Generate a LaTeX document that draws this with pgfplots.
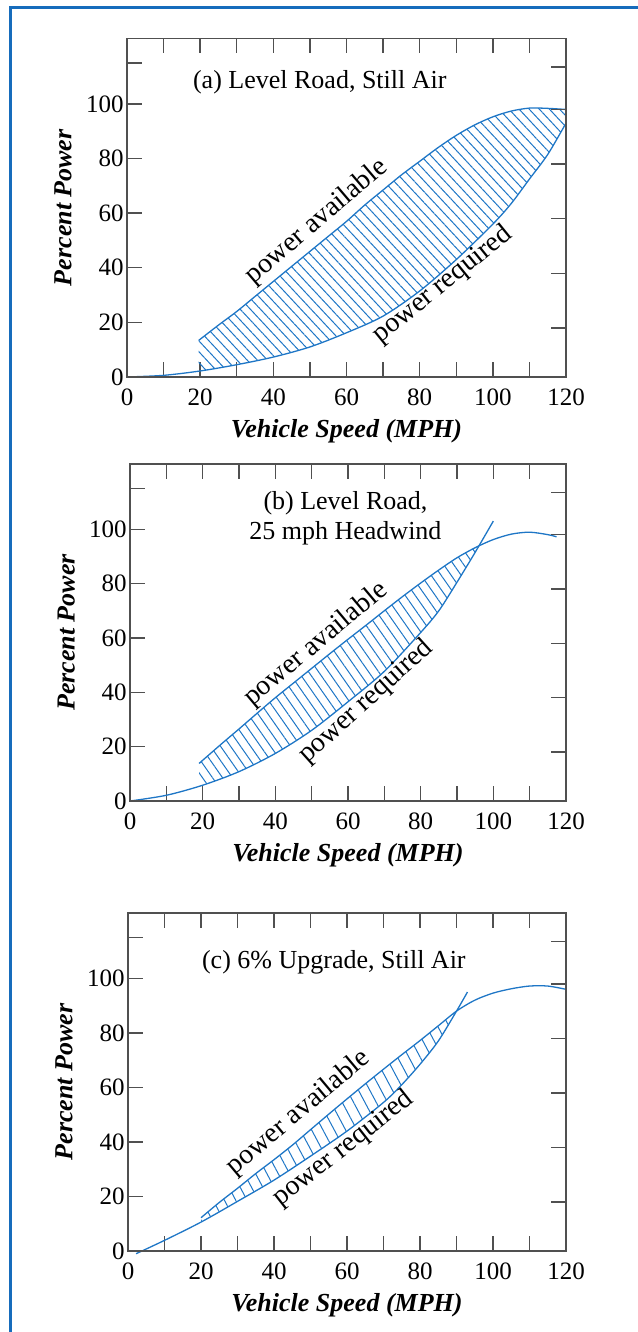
\documentclass[border=0pt]{standalone}
\usepackage{fontspec}
\setmainfont{Liberation Serif}
\usepackage{pgfplots}
\pgfplotsset{compat=1.18}
\usepgfplotslibrary{fillbetween}
\usetikzlibrary{patterns.meta}

\definecolor{frameblue}{RGB}{22,108,188}
\definecolor{curveblue}{RGB}{30,118,198}
\definecolor{axisgray}{RGB}{80,80,80}

\newcommand\tickfont{\fontsize{12.5}{14}\selectfont}
\newcommand\labfont{\fontsize{13}{15}\selectfont\bfseries\itshape}
\newcommand\notefont{\fontsize{13}{15}\selectfont}
\newcommand\rotfont{\fontsize{14}{16}\selectfont}

\tikzset{
  note/.style={font=\notefont, inner sep=0pt},
  rot/.style={font=\rotfont, inner sep=0pt},
}

\pgfplotsset{
  panel/.style={
    anchor=south west, scale only axis,
    xmin=0, xmax=120, ymin=0, ymax=124,
    axis line style={axisgray, line width=0.7pt},
    tick style={axisgray, line width=0.7pt},
    tick align=inside, major tick length=7.5pt,
    clip=false,
  },
  main/.style={
    panel,
    xtick={0,10,...,120},
    xticklabels={0,,20,,40,,60,,80,,100,,120},
    ytick={0,20,40,60,80,100,115},
    yticklabels={0,20,40,60,80,100,},
    xtick pos=both, ytick pos=left,
    /pgf/number format/assume math mode=true,
    ticklabel style={font=\tickfont},
    xticklabel style={yshift=-2.5pt},
    yticklabel style={inner xsep=1.5pt},
    xlabel={Vehicle Speed (MPH)}, ylabel={Percent Power},
    label style={font=\labfont},
    xlabel style={at={(axis description cs:0.5,0)}, anchor=center, yshift=-27pt},
    ylabel style={at={(axis description cs:-0.146,0.5)}, anchor=center},
  },
  right ticks/.style={
    panel, xtick=\empty, ytick pos=right,
    ytick={18,38,58,78,98,113.5}, yticklabels={},
  },
  curve/.style={curveblue, line width=0.65pt, smooth, no markers},
}

\begin{document}
\begin{tikzpicture}
\draw[frameblue, line width=1.5pt] (5.2pt,-3pt) -- (5.2pt,662pt) -- (322pt,662pt);

% (a) level road, still air
\begin{axis}[main, at={(63.5pt,477.5pt)}, width=219.5pt, height=169.25pt]
\addplot[curve, name path=Ra] coordinates {
  (0,0) (10,0.6) (20,2.2) (30,4.5) (40,7.3) (50,11) (60,16.2) (70,22.3)
  (80,31.5) (90,43) (100,56) (105,63.5) (110,72.5) (115,81.5) (120,93)};
\addplot[curve, name path=Aa] coordinates {
  (19.6,13.4) (25,19) (30,24) (35,29.5) (40,35) (45,40.5) (50,46) (55,51.5)
  (60,57) (65,63) (70,68.5) (75,74) (80,79) (85,84) (90,88.5) (95,92.3)
  (100,95.3) (105,97.4) (110,98.5) (115,98.4) (120,98)};
\addplot[draw=none, pattern={Lines[angle=-47,distance=3.7pt,line width=0.5pt]},
  pattern color=curveblue] fill between[of=Aa and Ra, soft clip={domain=19.6:120}];
\node[note] at (axis cs:52.7,108) {(a) Level Road, Still Air};
\node[rot, rotate=40.5] at (axis cs:51.9,56.8) {power available};
\node[rot, rotate=39] at (axis cs:86.3,33.7) {power required};
\end{axis}
\begin{axis}[right ticks, at={(63.5pt,477.5pt)}, width=219.5pt, height=169.25pt]
\addplot[draw=none] coordinates {(0,0) (120,124)};
\end{axis}

% (b) level road, 25 mph headwind
\begin{axis}[main, at={(65pt,265.5pt)}, width=218pt, height=168.5pt]
\addplot[curve, name path=Rb] coordinates {
  (0,0) (10,2.1) (20,5.8) (30,10.8) (40,17.5) (50,26) (60,36.5) (70,47.7)
  (80,62) (85,70) (90,80.5) (95,91.5) (100,103)};
\addplot[curve, name path=Ab] coordinates {
  (19,13.8) (25,20.8) (30,26.5) (35,32.3) (40,38) (45,43.4) (50,48.8) (55,54.2)
  (60,59.5) (65,64.7) (70,70) (75,75.2) (80,80.2) (85,85) (90,89.5) (95,93.2)
  (100,96.2) (105,98.2) (110,98.9) (115,98) (117.4,97.2)};
\addplot[draw=none, pattern={Lines[angle=-55,distance=4.1pt,line width=0.5pt]},
  pattern color=curveblue] fill between[of=Ab and Rb, soft clip={domain=19:96.3}];
\node[note, align=center] at (axis cs:59.3,104) {(b) Level Road,\\25 mph Headwind};
\node[rot, rotate=40] at (axis cs:51.2,57.6) {power available};
\node[rot, rotate=42] at (axis cs:65,36.5) {power required};
\end{axis}
\begin{axis}[right ticks, at={(65pt,265.5pt)}, width=218pt, height=168.5pt]
\addplot[draw=none] coordinates {(0,0) (120,124)};
\end{axis}

% (c) 6% upgrade, still air
\begin{axis}[main, at={(64pt,40.5pt)}, width=219pt, height=169pt]
\addplot[curve] coordinates {
  (2.2,-1) (10,3.9) (20,10.6) (30,18.2) (40,26) (50,34.8) (60,44) (70,54.5)
  (75,61) (80,68.5) (85,77) (90,88) (93,95)};
\addplot[curve] coordinates {
  (20,12.2) (25,17.8) (30,23) (35,28.4) (40,33.5) (45,38.8) (50,44.5) (55,50.2)
  (60,55.8) (65,61.3) (70,66.7) (75,72) (80,77.2) (85,82.6) (90,88) (95,92)
  (100,94.6) (105,96.2) (110,97.2) (115,97.2) (120,96)};
% the hatched band only runs up to where the curves cross
\addplot[draw=none, smooth, name path=Rc] coordinates {
  (20,10.6) (30,18.2) (40,26) (50,34.8) (60,44) (70,54.5)
  (75,61) (80,68.5) (85,77) (90,88)};
\addplot[draw=none, smooth, name path=Ac] coordinates {
  (20,12.2) (25,17.8) (30,23) (35,28.4) (40,33.5) (45,38.8) (50,44.5) (55,50.2)
  (60,55.8) (65,61.3) (70,66.7) (75,72) (80,77.2) (85,82.6) (90,88)};
\addplot[draw=none, pattern={Lines[angle=-62,distance=5pt,line width=0.5pt]},
  pattern color=curveblue] fill between[of=Ac and Rc];
\node[note] at (axis cs:56.4,106) {(c) 6\% Upgrade, Still Air};
\node[rot, rotate=40] at (axis cs:46.8,50.7) {power available};
\node[rot, rotate=38] at (axis cs:59,37.5) {power required};
\end{axis}
\begin{axis}[right ticks, at={(64pt,40.5pt)}, width=219pt, height=169pt]
\addplot[draw=none] coordinates {(0,0) (120,124)};
\end{axis}

\pgfresetboundingbox
\path[use as bounding box] (0,0) rectangle (318.5pt,666pt);
\end{tikzpicture}
\end{document}
